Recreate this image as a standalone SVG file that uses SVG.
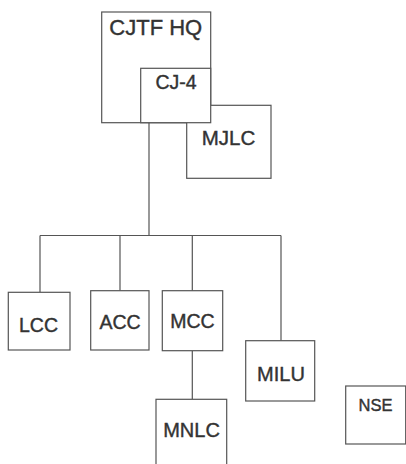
<svg xmlns="http://www.w3.org/2000/svg" width="406" height="464" viewBox="0 0 406 464">
<style>
.box{fill:none;stroke:#555;stroke-width:1.2}
.bg{fill:#fff;stroke:#555;stroke-width:1.2}
.ln{fill:none;stroke:#555;stroke-width:1.2}
text{font-family:"Liberation Sans",Arial,sans-serif;fill:#333;stroke:#333;stroke-width:0.4;text-anchor:middle}
</style>
<rect width="406" height="464" fill="#fff"/>
<g id="connectors">
<path class="ln" d="M149,122.7 V235.5 M40,235.5 H281 M40,235.5 V292.3 M120,235.5 V290.7 M192.3,235.5 V290.7 M281,235.5 V340.7 M192.3,350.7 V399.3"/>
</g>
<g id="cjtf-hq">
<rect class="box" x="101.7" y="12" width="109" height="110.7"/>
<text x="155.8" y="35" font-size="22">CJTF HQ</text>
</g>
<g id="mjlc">
<rect class="bg" x="186.7" y="105.3" width="84.3" height="73"/>
<text x="228.5" y="145" font-size="20.5">MJLC</text>
</g>
<g id="cj-4">
<rect class="bg" x="140.7" y="68.3" width="70" height="54.4"/>
<text x="176" y="89" font-size="19.5">CJ-4</text>
</g>
<g id="lcc">
<rect class="bg" x="8.3" y="292.3" width="61.7" height="57.7"/>
<text x="38.5" y="331.5" font-size="19.5">LCC</text>
</g>
<g id="acc">
<rect class="bg" x="90.7" y="290.7" width="58.3" height="59.3"/>
<text x="120" y="329" font-size="19.5">ACC</text>
</g>
<g id="mcc">
<rect class="bg" x="162.3" y="290.7" width="60.4" height="60"/>
<text x="192.5" y="328" font-size="19.5">MCC</text>
</g>
<g id="mnlc">
<rect class="bg" x="156" y="399.3" width="70.7" height="70"/>
<text x="191.5" y="436.7" font-size="20">MNLC</text>
</g>
<g id="milu">
<rect class="bg" x="245.7" y="340.7" width="69" height="60.3"/>
<text x="281" y="381" font-size="20">MILU</text>
</g>
<g id="nse">
<rect class="bg" x="345.7" y="386" width="60" height="58"/>
<text x="375.5" y="411" font-size="16.5">NSE</text>
</g>
</svg>
